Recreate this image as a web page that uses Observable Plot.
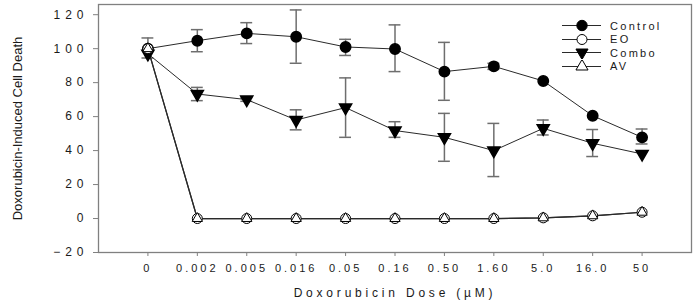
<!DOCTYPE html>
<html>
<head>
<meta charset="utf-8">
<script src="https://cdn.jsdelivr.net/npm/d3@7"></script>
<script src="https://cdn.jsdelivr.net/npm/@observablehq/plot@0.6"></script>
<style>
  body { margin: 0; background: #fff; }
  #wrap { position: relative; width: 700px; height: 300px; font-family: "Liberation Sans", Arial, sans-serif; }
  #wrap svg text { fill: #1a1a1a; }
  g[aria-label="y-axis tick label"] text { letter-spacing: 5px; font-size: 12px; }
  g[aria-label="x-axis tick label"] text { letter-spacing: 3px; }
  g[aria-label="x-axis label"] text { letter-spacing: 3.8px; font-size: 12px; }
  g[aria-label="y-axis label"] text { font-size: 13px; }
  #legend { position: absolute; left: 562px; top: 19px; font-size: 11px; letter-spacing: 2.3px; color: #1a1a1a; }
  #legend .row { display: flex; align-items: center; height: 13.5px; }
  #legend svg { display: block; margin-right: 8px; }
</style>
</head>
<body>
<div id="wrap"></div>
<script>
// ---- data ----
const doses = ["0", "0.002", "0.005", "0.016", "0.05", "0.16", "0.50", "1.60", "5.0", "16.0", "50"];
const seriesNames = ["Control", "EO", "Combo", "AV"];
const control   = [100, 104.7, 109, 107, 101, 99.8, 86.5, 89.6, 81, 60.5, 47.8];
const controlLo = [94.5, 98.2, 103, 91.4, 96, 86.5, 69.6, 87.8, null, null, 43.9];
const controlHi = [106.3, 111.2, 115.3, 122.8, 105.5, 114, 103.7, 91.4, null, null, 52.7];
const eo        = [100, 0, 0, 0, 0, 0, 0, 0, 0.4, 1.6, 3.7];
const combo     = [97, 73.3, 70, 58, 65.3, 51.8, 47.8, 40, 53.1, 44.3, 38];
const comboLo   = [null, 69.4, 69, 52.2, 47.8, 47.8, 33.7, 24.7, 49.2, 36.5, null];
const comboHi   = [null, 77.2, 71, 64, 82.8, 57, 61.9, 56, 58, 52.4, null];
const av        = [100, 0, 0, 0, 0, 0, 0, 0, 0.4, 1.6, 3.7];
const yTicks = [-20, 0, 20, 40, 60, 80, 100, 120];

// ---- tidy table ----
function rows(name, vals, lo, hi) {
  return vals.map((v, i) => ({series: name, i, v, lo: lo ? lo[i] : null, hi: hi ? hi[i] : null}));
}
const cRows = rows("Control", control, controlLo, controlHi);
const eRows = rows("EO", eo);
const mRows = rows("Combo", combo, comboLo, comboHi);
const aRows = rows("AV", av);
const errRows = [...cRows, ...mRows].filter(d => d.lo != null);

const capHalf = 0.12;
const lineColor = "#2a2a2a";
const errColor = "#6e6e6e";

const chart = Plot.plot({
  width: 700,
  height: 300,
  marginLeft: 98,
  marginRight: 9,
  marginTop: 4,
  marginBottom: 48,
  style: {fontFamily: "'Liberation Sans', Arial, sans-serif", fontSize: "11px", background: "#fff", color: "#1a1a1a"},
  x: {type: "linear", domain: [-1, 11]},
  y: {domain: [-20, 126]},
  marks: [
    Plot.frame({stroke: "#808080", strokeWidth: 1.3}),
    Plot.axisY({ticks: yTicks, tickSize: 5, tickPadding: 5, stroke: "#808080",
      label: "Doxorubicin-Induced Cell Death", labelAnchor: "center", labelOffset: 86, labelArrow: "none"}),
    Plot.axisX({ticks: d3.range(doses.length), tickFormat: i => doses[i], tickSize: 4, tickPadding: 8, stroke: "#808080",
      label: "Doxorubicin Dose (\u00b5M)", labelAnchor: "center", labelOffset: 44, labelArrow: "none"}),
    Plot.ruleX(errRows, {x: "i", y1: "lo", y2: "hi", stroke: errColor, strokeWidth: 1.5}),
    Plot.ruleY(errRows, {y: "lo", x1: d => d.i - capHalf, x2: d => d.i + capHalf, stroke: errColor, strokeWidth: 1.5}),
    Plot.ruleY(errRows, {y: "hi", x1: d => d.i - capHalf, x2: d => d.i + capHalf, stroke: errColor, strokeWidth: 1.5}),
    Plot.line(cRows, {x: "i", y: "v", stroke: lineColor, strokeWidth: 1}),
    Plot.line(mRows, {x: "i", y: "v", stroke: lineColor, strokeWidth: 1}),
    Plot.line(eRows, {x: "i", y: "v", stroke: lineColor, strokeWidth: 1.2}),
    Plot.line(aRows, {x: "i", y: "v", stroke: lineColor, strokeWidth: 1.2}),
    Plot.dot(cRows, {x: "i", y: "v", r: 5.2, fill: "#000", stroke: "#000"}),
    Plot.dot(mRows, {x: "i", y: "v", r: 4.5, symbol: "triangle", rotate: 180, fill: "#000", stroke: "#000"}),
    Plot.dot(eRows, {x: "i", y: "v", r: 5, fill: "#fff", stroke: "#000", strokeWidth: 1}),
    Plot.dot(aRows, {x: "i", y: "v", r: 3.8, symbol: "triangle", fill: "#fff", stroke: "#000", strokeWidth: 1})
  ]
});
const wrap = document.getElementById("wrap");
wrap.appendChild(chart);

// ---- legend (inside plot area, top right) ----
const legendSpec = [
  {name: seriesNames[0], sym: d3.symbolCircle, fill: "#000", rot: 0, r: 5.2},
  {name: seriesNames[1], sym: d3.symbolCircle, fill: "#fff", rot: 0, r: 5},
  {name: seriesNames[2], sym: d3.symbolTriangle, fill: "#000", rot: 180, r: 4.5},
  {name: seriesNames[3], sym: d3.symbolTriangle, fill: "#fff", rot: 0, r: 4.5}
];
const legend = d3.select(wrap).append("div").attr("id", "legend");
legendSpec.forEach(s => {
  const row = legend.append("div").attr("class", "row");
  const svg = row.append("svg").attr("width", 40).attr("height", 13);
  svg.append("line").attr("x1", 0).attr("x2", 39).attr("y1", 6.5).attr("y2", 6.5).attr("stroke", lineColor).attr("stroke-width", 1);
  svg.append("path")
    .attr("d", d3.symbol(s.sym, Math.PI * s.r * s.r)())
    .attr("transform", `translate(20,6.5) rotate(${s.rot})`)
    .attr("fill", s.fill).attr("stroke", "#000");
  row.append("span").text(s.name);
});
</script>
</body>
</html>
